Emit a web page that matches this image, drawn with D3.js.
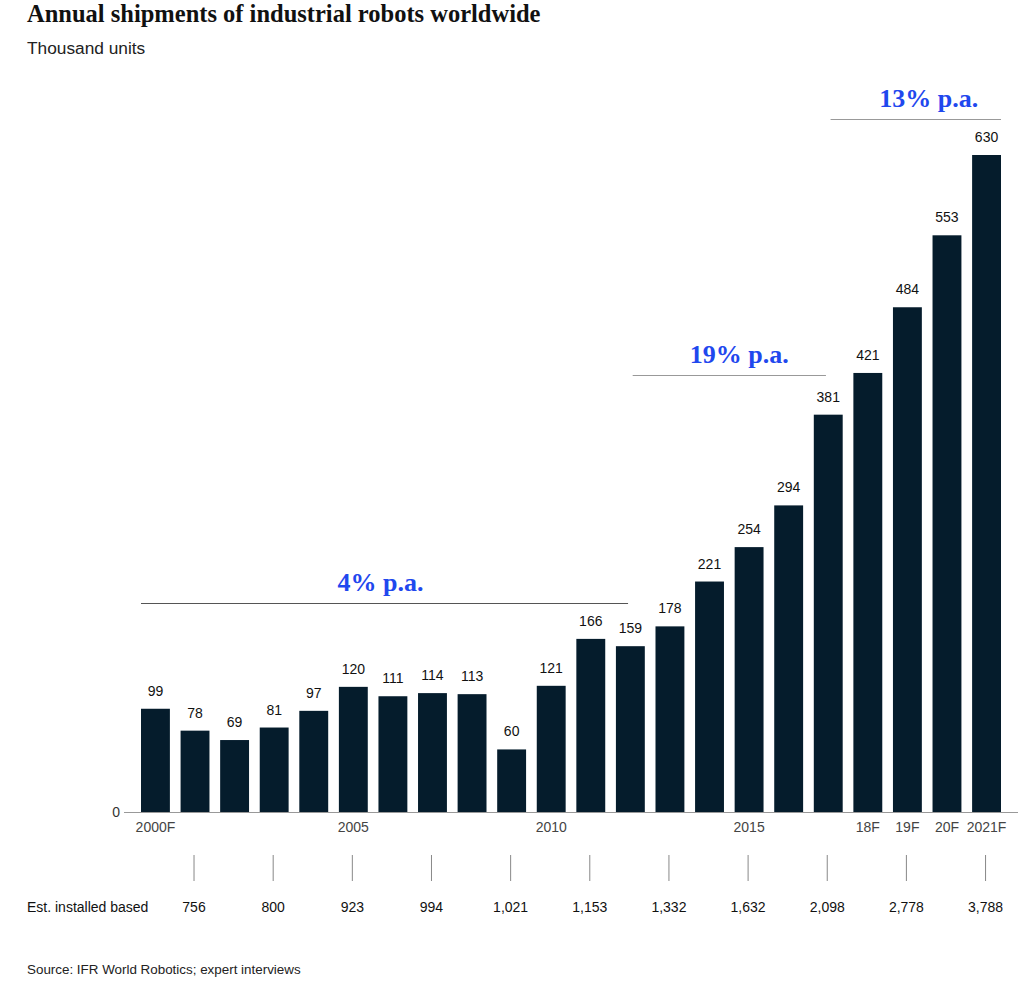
<!DOCTYPE html>
<html>
<head>
<meta charset="utf-8">
<script src="https://cdn.jsdelivr.net/npm/d3@7"></script>
<style>
  body { margin: 0; background: #fff; }
  svg { display: block; }
</style>
</head>
<body>
<svg id="chart"></svg>
<script>
// shipments, thousand units
const years = ["2000","2001","2002","2003","2004","2005","2006","2007","2008","2009","2010",
               "2011","2012","2013","2014","2015","2016","2017","2018","2019","2020","2021"];
const shipments = [99, 78, 69, 81, 97, 120, 111, 114, 113, 60, 121,
                   166, 159, 178, 221, 254, 294, 381, 421, 484, 553, 630];

const tickYears  = ["2000","2005","2010","2015","2018","2019","2020","2021"];
const tickLabels = ["2000F","2005","2010","2015","18F","19F","20F","2021F"];

const baseYears  = ["2001","2003","2005","2007","2009","2011","2013","2015","2017","2019","2021"];
const baseValues = ["756","800","923","994","1,021","1,153","1,332","1,632","2,098","2,778","3,788"];

const growthLabels = ["4% p.a.", "19% p.a.", "13% p.a."];
const growthFrom   = ["2000", "2012", "2017"];
const growthTo     = ["2012", "2017", "2021"];

const width = 1024, height = 981;
const sans = "'Liberation Sans', Arial, sans-serif";
const serif = "'Liberation Serif', 'Times New Roman', serif";

const svg = d3.select('#chart')
  .attr('width', width)
  .attr('height', height);

const x = d3.scaleBand()
  .domain(years)
  .range([141, 1001])
  .paddingInner(0.27)
  .paddingOuter(0);

const y = d3.scaleLinear()
  .domain([0, 630])
  .range([812, 155]);

// titles
svg.append('text')
  .attr('x', 27).attr('y', 22)
  .style('font-family', serif)
  .style('font-weight', 'bold')
  .style('font-size', '24.5px')
  .attr('fill', '#111')
  .text('Annual shipments of industrial robots worldwide');

svg.append('text')
  .attr('x', 27).attr('y', 54)
  .style('font-family', sans)
  .style('font-size', '17.3px')
  .attr('fill', '#222')
  .text('Thousand units');

// bars
svg.append('g')
  .selectAll('rect')
  .data(years)
  .join('rect')
  .attr('x', d => x(d))
  .attr('y', (d, i) => y(shipments[i]))
  .attr('width', x.bandwidth())
  .attr('height', (d, i) => y(0) - y(shipments[i]))
  .attr('fill', '#051c2c');

svg.append('g')
  .selectAll('text')
  .data(years)
  .join('text')
  .attr('x', d => x(d) + x.bandwidth() / 2)
  .attr('y', (d, i) => y(shipments[i]) - 13)
  .attr('text-anchor', 'middle')
  .style('font-family', sans)
  .style('font-size', '14px')
  .attr('fill', '#111')
  .text((d, i) => shipments[i]);

// baseline
svg.append('line')
  .attr('x1', x.range()[0] - 17)
  .attr('x2', x.range()[1] + 17)
  .attr('y1', y(0) + 0.5)
  .attr('y2', y(0) + 0.5)
  .attr('stroke', '#999')
  .attr('stroke-width', 1);

svg.append('text')
  .attr('x', x.range()[0] - 21)
  .attr('y', y(0) + 5)
  .attr('text-anchor', 'end')
  .style('font-family', sans)
  .style('font-size', '14px')
  .attr('fill', '#333')
  .text('0');

// x axis labels
const xAxis = d3.axisBottom(x)
  .tickValues(tickYears)
  .tickSize(0)
  .tickPadding(10)
  .tickFormat(d => tickLabels[tickYears.indexOf(d)]);

const xAxisGroup = svg.append('g')
  .attr('transform', `translate(0, ${y(0)})`)
  .call(xAxis);
xAxisGroup.select('.domain').remove();
xAxisGroup.selectAll('text')
  .style('font-family', sans)
  .style('font-size', '14px')
  .attr('fill', '#444');

// growth rate annotations
const bandPos = (yr, frac) => x(yr) + x.bandwidth() * frac;
const lift = [36, 40, 36];
growthLabels.forEach((label, i) => {
  const x1 = i === 0 ? bandPos(growthFrom[i], 0) : bandPos(growthFrom[i], 0.58);
  const x2 = i === growthLabels.length - 1 ? bandPos(growthTo[i], 1) : bandPos(growthTo[i], 0.42);
  const maxVal = d3.max(years.filter(yr => yr >= growthFrom[i] && yr <= growthTo[i]),
                        yr => shipments[years.indexOf(yr)]);
  const ly = Math.round(y(maxVal) - lift[i]) + 0.5;
  svg.append('line')
    .attr('x1', x1).attr('x2', x2)
    .attr('y1', ly).attr('y2', ly)
    .attr('stroke', i === 0 ? '#555' : '#999')
    .attr('stroke-width', 1.2);
  svg.append('text')
    .attr('x', (x1 + x2) / 2 + [-4, 10, 13][i])
    .attr('y', ly - 13)
    .attr('text-anchor', 'middle')
    .style('font-family', serif)
    .style('font-weight', 'bold')
    .style('font-size', '26px')
    .attr('fill', '#1f48ee')
    .text(label);
});

// installed base row
svg.append('g')
  .selectAll('line')
  .data(baseYears)
  .join('line')
  .attr('x1', d => x(d) + x.bandwidth() / 2 - 1)
  .attr('x2', d => x(d) + x.bandwidth() / 2 - 1)
  .attr('y1', 855)
  .attr('y2', 881)
  .attr('stroke', '#888')
  .attr('stroke-width', 1);

svg.append('g')
  .selectAll('text')
  .data(baseYears)
  .join('text')
  .attr('x', d => x(d) + x.bandwidth() / 2 - 1)
  .attr('y', 912)
  .attr('text-anchor', 'middle')
  .style('font-family', sans)
  .style('font-size', '14px')
  .attr('fill', '#111')
  .text((d, i) => baseValues[i]);

svg.append('text')
  .attr('x', 27).attr('y', 912)
  .style('font-family', sans)
  .style('font-size', '14px')
  .attr('fill', '#111')
  .text('Est. installed based');

svg.append('text')
  .attr('x', 27).attr('y', 974)
  .style('font-family', sans)
  .style('font-size', '13.4px')
  .attr('fill', '#222')
  .text('Source: IFR World Robotics; expert interviews');
</script>
</body>
</html>
